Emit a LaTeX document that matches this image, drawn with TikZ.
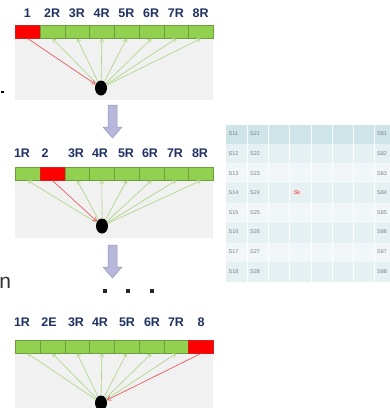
\documentclass[tikz,border=0pt]{standalone}
\usepackage{fontspec}
\setmainfont{Liberation Sans}
\usetikzlibrary{arrows.meta,shapes.geometric}
\definecolor{cellgreen}{HTML}{92D050}
\definecolor{cellborder}{HTML}{6E9C3E}
\definecolor{cellred}{HTML}{FF0000}
\definecolor{redborder}{HTML}{D02020}
\definecolor{garrow}{HTML}{ADD586}
\definecolor{rarrow}{HTML}{E65A5E}
\definecolor{panelgrey}{HTML}{F1F1F1}
\definecolor{labelblue}{HTML}{1F3263}
\definecolor{lavfill}{HTML}{B6B7DA}
\definecolor{lavborder}{HTML}{9394C0}
\definecolor{thead}{HTML}{CDE5E8}
\definecolor{trowa}{HTML}{E4F0F2}
\definecolor{trowb}{HTML}{F1F7F8}
\definecolor{ttext}{HTML}{7E7E7E}
\tikzset{
  gcell/.style={draw=cellborder, fill=cellgreen, line width=0.5pt, minimum width=24.75pt, minimum height=13pt, inner sep=0pt, anchor=north west},
  rcell/.style={gcell, draw=redborder, fill=cellred},
  lbl/.style={font=\fontsize{12.5}{12.5}\selectfont\bfseries, text=labelblue, inner sep=0pt},
  dotnode/.style={ellipse, fill=black, minimum width=12pt, minimum height=15pt, inner sep=0pt},
  garr/.style={draw=garrow, line width=0.65pt, -{Straight Barb[length=3pt,width=4pt]}},
  rarr/.style={draw=rarrow, line width=0.7pt, -{Straight Barb[length=3.5pt,width=4.5pt]}},
  downarrow/.style={fill=lavfill, draw=lavborder, line width=0.5pt},
  ttxt/.style={font=\fontsize{5.5}{5.5}\selectfont, text=ttext, inner sep=0pt, anchor=west},
}
\begin{document}
\begin{tikzpicture}[x=1pt,y=-1pt]
\useasboundingbox (0,0) rectangle (390,408);
\fill[white] (0,0) rectangle (390,408);
% ---------- panel 1 ----------
\fill[panelgrey] (15,38) rectangle (213,100);
\foreach \i in {1,...,8}{
  \ifnum\i=1 \node[rcell] (a\i) at ({15+(\i-1)*24.75},25) {};
  \else \node[gcell] (a\i) at ({15+(\i-1)*24.75},25) {}; \fi
}
\foreach \t [count=\i] in {1,2R,3R,4R,5R,6R,7R,8R}{
  \node[lbl] (la\i) at ({27.4+(\i-1)*24.75},13) {\t};
}
\node[dotnode] (da) at (101,88) {};
\foreach \i in {2,...,8}{ \draw[garr] (da) -- (a\i.south); }
\draw[rarr] (a1.south) -- (da);
% small dot at far left
\fill[black] (1,90.5) rectangle (3.5,93);
% down arrow 1
\draw[downarrow] (108,105) -- (117,105) -- (117,127) -- (122,127) -- (112.5,138) -- (103,127) -- (108,127) -- cycle;
% ---------- panel 2 ----------
\fill[panelgrey] (15,180) rectangle (213,238);
\foreach \i in {1,...,8}{
  \ifnum\i=2 \node[rcell] (b\i) at ({15+(\i-1)*24.75},167) {};
  \else \node[gcell] (b\i) at ({15+(\i-1)*24.75},167) {}; \fi
}
\foreach \t/\x [count=\i] in {1R/22,2/45,3R/76,4R/100,5R/126,6R/150,7R/175,8R/200}{
  \node[lbl] (lb\i) at (\x,153) {\t};
}
\node[dotnode] (db) at (102,226) {};
\foreach \i in {1,3,4,5,6,7,8}{ \draw[garr] (db) -- (b\i.south); }
\draw[rarr] (b2.south) -- (db);
% down arrow 2
\draw[downarrow] (108,245) -- (117,245) -- (117,267) -- (122,267) -- (112.5,278) -- (103,267) -- (108,267) -- cycle;
% dots
\foreach \x [count=\i] in {105,128,152}{
  \fill[black!85] (\x-2,289) rectangle (\x+2,293);
}
% letter at left edge
\node[font=\fontsize{21}{21}\selectfont, text=black!80, inner sep=0pt, anchor=base west] (nn) at (-0.8,288) {n};
% ---------- panel 3 ----------
\fill[panelgrey] (15,353) rectangle (213,408);
\foreach \i in {1,...,8}{
  \ifnum\i=8 \node[rcell] (c\i) at ({15+(\i-1)*24.75},340) {};
  \else \node[gcell] (c\i) at ({15+(\i-1)*24.75},340) {}; \fi
}
\foreach \t/\x [count=\i] in {1R/22,2E/49,3R/76,4R/100,5R/127,6R/152,7R/176,8/201}{
  \node[lbl] (lc\i) at (\x,322) {\t};
}
\node[dotnode] (dc) at (101,403) {};
\foreach \i in {1,...,7}{ \draw[garr] (dc) -- (c\i.south); }
\draw[rarr] (c8.south) -- (dc);
% ---------- table ----------
\fill[thead] (226,125) rectangle (395,143.5);
\foreach \r in {1,...,7}{
  \pgfmathtruncatemacro{\odd}{mod(\r,2)}
  \ifnum\odd=1 \fill[trowa] (226,{143.5+(\r-1)*19.8}) rectangle (395,{143.5+\r*19.8});
  \else \fill[trowb] (226,{143.5+(\r-1)*19.8}) rectangle (395,{143.5+\r*19.8}); \fi
}
\foreach \x in {247,268,289.5,311,332,353,374}{
  \draw[white, line width=0.7pt] (\x,125) -- (\x,282);
}
\foreach \r in {1,...,8}{
  \node[ttxt] (s1\r) at (228.5,{134+(\r-1)*19.6}) {S1\r};
  \node[ttxt] (s2\r) at (250,{134+(\r-1)*19.6}) {S2\r};
  \node[ttxt] (s8\r) at (377,{134+(\r-1)*19.6}) {S8\r};
}
\node[font=\fontsize{5.5}{5.5}\selectfont, text=rarrow!80!black, fill=red!12, inner sep=0.6pt, anchor=west] (sk) at (293,192.8) {Sk};
\end{tikzpicture}
\end{document}
